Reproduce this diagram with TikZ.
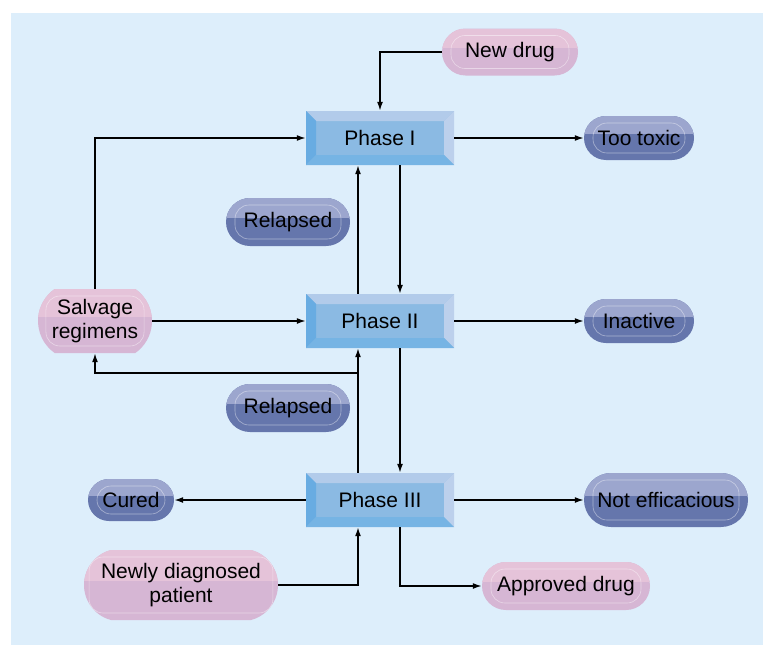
\documentclass[tikz,border=0pt]{standalone}
\usepackage{fontspec}
\setmainfont{Liberation Sans}
\usetikzlibrary{shapes.misc,arrows.meta}

\begin{document}
\begin{tikzpicture}[x=1pt,y=-1pt]

% Define flow chart colors
\definecolor{bgblue}{RGB}{221,238,251}
\definecolor{phaseface}{RGB}{139,186,227}
\definecolor{phasetop}{RGB}{178,203,234}
\definecolor{phaseleft}{RGB}{104,172,226}
\definecolor{phaseright}{RGB}{188,208,236}
\definecolor{phasebottom}{RGB}{118,180,228}
\definecolor{pinkbase}{RGB}{214,182,212}
\definecolor{pinktop}{RGB}{229,195,217}
\definecolor{bluebase}{RGB}{101,118,172}
\definecolor{bluetop}{RGB}{156,166,206}

\useasboundingbox (0,0) rectangle (763,645);
\fill[bgblue] (11,13) rectangle (763,645);

\begin{scope}[
every node/.style={font=\fontsize{21}{24}\selectfont, text=black, inner sep=0pt, align=center},
phase/.style={rectangle, minimum width=148pt, minimum height=54pt, fill=phaseface,
    path picture={
    \fill[phasetop] (path picture bounding box.north west) -- (path picture bounding box.north east)
        -- ([shift={(-10pt,-10pt)}]path picture bounding box.north east) -- ([shift={(10pt,-10pt)}]path picture bounding box.north west) -- cycle;
    \fill[phaseleft] (path picture bounding box.north west) -- ([shift={(10pt,-10pt)}]path picture bounding box.north west)
        -- ([shift={(10pt,10pt)}]path picture bounding box.south west) -- (path picture bounding box.south west) -- cycle;
    \fill[phaseright] (path picture bounding box.north east) -- ([shift={(-10pt,-10pt)}]path picture bounding box.north east)
        -- ([shift={(-10pt,10pt)}]path picture bounding box.south east) -- (path picture bounding box.south east) -- cycle;
    \fill[phasebottom] (path picture bounding box.south west) -- (path picture bounding box.south east)
        -- ([shift={(-10pt,10pt)}]path picture bounding box.south east) -- ([shift={(10pt,10pt)}]path picture bounding box.south west) -- cycle;
    }},
pill/.style 2 args={rounded rectangle, fill=#1,
    path picture={
    \fill[#2] (path picture bounding box.north west) rectangle ([yshift=4pt]path picture bounding box.east);
    \draw[white, opacity=.45, line width=.6pt, rounded corners=14pt]
        ([shift={(9pt,-7pt)}]path picture bounding box.north west) rectangle ([shift={(-9pt,7pt)}]path picture bounding box.south east);
    }},
pinkpill/.style={pill={pinkbase}{pinktop}},
bluepill/.style={pill={bluebase}{bluetop}},
arr/.style={line width=1.5pt, -{Latex[length=9pt,width=6pt]}}]

% Phases
\node [phase] (phase1) at (380,138) {Phase I};
\node [phase] (phase2) at (380,321) {Phase II};
\node [phase] (phase3) at (380,500) {Phase III};

% Inputs and outcomes
\node [pinkpill, minimum width=136pt, minimum height=47pt] (newdrug) at (510,52) {New drug};
\node [pinkpill, minimum width=114pt, minimum height=64pt, rounded rectangle arc length=110] (salvage) at (95,321) {Salvage\\regimens};
\node [pinkpill, minimum width=194pt, minimum height=70pt, rounded rectangle arc length=150] (newly) at (181,585) {Newly diagnosed\\patient};
\node [pinkpill, minimum width=168pt, minimum height=48pt] (approved) at (566,586) {Approved drug};
\node [bluepill, minimum width=110pt, minimum height=44pt] (toxic) at (639,138) {Too toxic};
\node [bluepill, minimum width=110pt, minimum height=44pt] (inactive) at (639,321) {Inactive};
\node [bluepill, minimum width=164pt, minimum height=54pt] (notef) at (666,500) {Not efficacious};
\node [bluepill, minimum width=86pt, minimum height=42pt] (cured) at (131,500) {Cured};
\node [bluepill, minimum width=124pt, minimum height=48pt] (relapsed1) at (288,222) {Relapsed};
\node [bluepill, minimum width=124pt, minimum height=48pt] (relapsed2) at (288,408) {Relapsed};

\coordinate (relfork) at (358,373);

% Connectors
\draw [arr] (newdrug.west) -| (phase1.north);
\draw [arr] (phase1.east) -- (toxic.west);
\draw [arr] (salvage.north) |- (phase1.west);
\draw [arr] ([xshift=20pt]phase1.south) -- ([xshift=20pt]phase2.north);
\draw [arr] ([xshift=-22pt]phase2.north) -- ([xshift=-22pt]phase1.south);
\draw [arr] (salvage.east) -- (phase2.west);
\draw [arr] (phase2.east) -- (inactive.west);
\draw [arr] ([xshift=20pt]phase2.south) -- ([xshift=20pt]phase3.north);
\draw [arr] ([xshift=-22pt]phase3.north) -- ([xshift=-22pt]phase2.south);
\draw [arr] (relfork) -| (salvage.south);
\draw [arr] (phase3.west) -- (cured.east);
\draw [arr] (phase3.east) -- (notef.west);
\draw [arr] (newly.east) -| ([xshift=-22pt]phase3.south);
\draw [arr] ([xshift=20pt]phase3.south) |- (approved.west);
\end{scope}
\end{tikzpicture}
\end{document}
